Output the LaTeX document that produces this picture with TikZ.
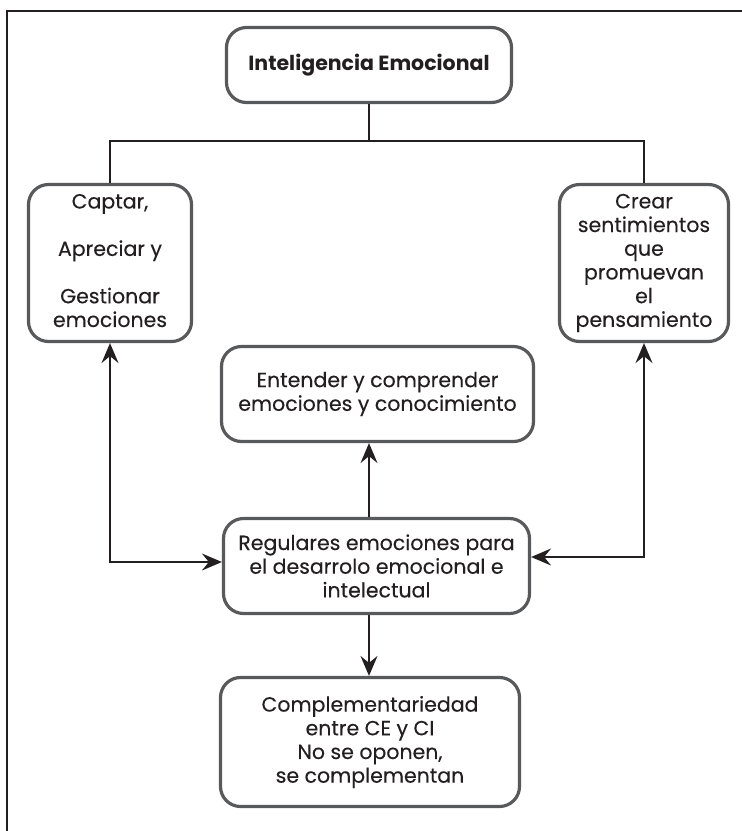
\documentclass[tikz,border=0pt]{standalone}
\usepackage{fontspec}
\setmainfont{Poppins}
\newfontfamily\bodyfont{Poppins}[FakeBold=0.2]
\usetikzlibrary{arrows.meta,calc}
\definecolor{boxgray}{HTML}{58595B}
\definecolor{ink}{HTML}{231F20}
\definecolor{txt}{HTML}{231F20}
\begin{document}
\begin{tikzpicture}[x=1pt,y=-1pt,
  box/.style={draw=boxgray,line width=3.2pt,rounded corners=20pt,fill=white,align=center,text=txt,inner sep=0pt,font=\bodyfont\fontsize{20.5}{23.7}\selectfont},
  conn/.style={draw=ink,line width=1.7pt},
  arr/.style={-{Stealth[length=20pt,width=17pt,inset=7pt]}},
  darr/.style={{Stealth[length=20pt,width=17pt,inset=7pt]}-{Stealth[length=20pt,width=17pt,inset=7pt]}}]
\useasboundingbox (0,0) rectangle (742,831);
\draw[ink,line width=2pt] (742,11) -- (7,11) -- (7,831);

\node[box,minimum width=285pt,minimum height=75pt,font=\rmfamily\fontsize{20.5}{23.7}\selectfont\bfseries] (T) at (369,65) {Inteligencia Emocional};
\node[box,minimum width=163pt,minimum height=157pt] (L) at (110,263) {\raisebox{-5pt}{\begin{tabular}{@{}c@{}}Captar,\\[23.7pt] Apreciar y\\[23.7pt] Gestionar\\ emociones\end{tabular}}};
\node[box,minimum width=169pt,minimum height=157pt] (R) at (644,263) {Crear\\ sentimientos\\ que\\ promuevan\\ el\\ pensamiento};
\node[box,minimum width=312pt,minimum height=95pt] (E) at (377.5,394) {Entender y comprender\\ emociones y conocimiento};
\node[box,minimum width=306pt,minimum height=95pt] (G) at (376.5,566) {Regulares emociones para\\ el desarrolo emocional e\\ intelectual};
\node[box,minimum width=299pt,minimum height=129pt] (C) at (370,742) {Complementariedad\\ entre CE y CI\\ No se oponen,\\ se complementan};

\coordinate (J) at (369,141);
\draw[conn] (T.south) -- (J) -| (L.north);
\draw[conn] (J) -| (R.north);
\draw[conn,arr] (G.north -| J) -- (E.south -| J);
\draw[conn,arr] (G.south -| J) -- (C.north -| J);
\draw[conn,darr] (L.south) |- (G.west |- 0,562);
\draw[conn,darr] (R.south) |- (G.east |- 0,557);
\end{tikzpicture}
\end{document}
